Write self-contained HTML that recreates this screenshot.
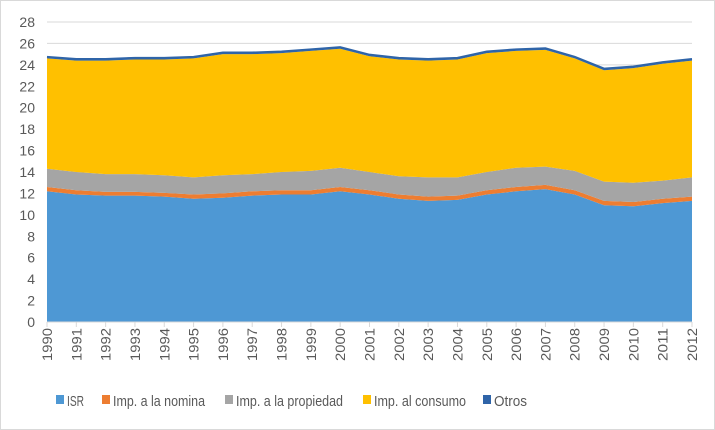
<!DOCTYPE html>
<html><head><meta charset="utf-8"><style>
body{margin:0;background:#fff;font-family:"Liberation Sans",sans-serif}
svg{display:block}
</style></head><body>
<svg id="c" width="715" height="430">
<rect x="0.5" y="0.5" width="714" height="429" fill="#fff" stroke="#d9d9d9"/>
</svg>
<script>
const years=["1990","1991","1992","1993","1994","1995","1996","1997","1998","1999","2000","2001","2002","2003","2004","2005","2006","2007","2008","2009","2010","2011","2012"];
const isr=[12.2,11.9,11.8,11.8,11.7,11.5,11.6,11.8,11.9,11.9,12.2,11.9,11.5,11.3,11.4,11.9,12.2,12.4,11.9,10.9,10.8,11.1,11.3];
const nomina=[0.4,0.4,0.35,0.35,0.35,0.4,0.4,0.4,0.4,0.4,0.4,0.4,0.4,0.4,0.4,0.4,0.4,0.4,0.4,0.4,0.4,0.4,0.4];
const propiedad=[1.7,1.7,1.65,1.65,1.65,1.6,1.7,1.6,1.7,1.8,1.8,1.7,1.7,1.8,1.7,1.7,1.8,1.7,1.8,1.8,1.8,1.7,1.8];
const consumo=[10.3,10.4,10.6,10.7,10.8,11.1,11.3,11.2,11.1,11.2,11.1,10.8,10.9,10.9,11.0,11.1,10.9,10.9,10.5,10.4,10.7,10.9,10.9];
const otros=[0.15,0.15,0.15,0.15,0.15,0.15,0.15,0.15,0.15,0.15,0.15,0.15,0.15,0.15,0.15,0.15,0.15,0.15,0.15,0.15,0.15,0.15,0.15];
const yTicks=[0,2,4,6,8,10,12,14,16,18,20,22,24,26,28];
const series=[["ISR",isr,"#4e98d4"],["Imp. a la nomina",nomina,"#ed7d31"],["Imp. a la propiedad",propiedad,"#a5a5a5"],["Imp. al consumo",consumo,"#ffc000"],["Otros",otros,"#2f64a8"]];
const NS="http://www.w3.org/2000/svg",svg=document.getElementById('c');
const x0=47,x1=692,yb=322,yt=22,ymax=28;
const X=i=>x0+(x1-x0)*i/(years.length-1);
const Y=v=>yb-(yb-yt)*v/ymax;
function mk(t,a){const e=document.createElementNS(NS,t);for(const k in a)e.setAttribute(k,a[k]);svg.appendChild(e);return e;}
yTicks.forEach(v=>{
 const g=mk('line',{x1:x0,x2:x1,y1:Y(v),y2:Y(v),stroke:'#d9d9d9'});
 
 
 const t=mk('text',{x:35,y:Y(v)+5,'text-anchor':'end','font-size':'14',fill:'#595959'});
 t.textContent=v;
 
 
});
let base=years.map(()=>0);
series.forEach(([name,vals,col],si)=>{
 const top=base.map((b,i)=>b+vals[i]);
 let d='M'+top.map((v,i)=>X(i)+','+Y(v)).join(' L');
 for(let i=years.length-1;i>=0;i--)d+=' L'+X(i)+','+Y(base[i]);
 d+='Z';
 const p=mk('path',{d:d,fill:col});
 
 
 if(si===series.length-1){
  const l=mk('polyline',{points:top.map((v,i)=>X(i)+','+Y(v)).join(' '),fill:'none',stroke:col,'stroke-width':2});
  
  
 }
 base=top;
});
const ax=mk('line',{x1:x0,x2:x1,y1:yb,y2:yb,stroke:'#d9d9d9'});


years.forEach((yr,i)=>{
 const tk=mk('line',{x1:X(i),x2:X(i),y1:yb,y2:yb+5,stroke:'#d9d9d9'});
 
 
 const t=mk('text',{x:0,y:0,'text-anchor':'end','font-size':'14',fill:'#595959',textLength:33,lengthAdjust:'spacingAndGlyphs',transform:`translate(${X(i)+5},${yb+6}) rotate(-90)`});
 t.textContent=yr;
 
 
});
const legX=[56,102,225,363,483];
const legW=[17,92,107,92,33];
series.forEach(([name,vals,col],i)=>{
 const r=mk('rect',{x:legX[i],y:395,width:8,height:9,fill:col});
 
 
 const t=mk('text',{x:legX[i]+11,y:406,'font-size':'15',fill:'#595959',textLength:legW[i],lengthAdjust:'spacingAndGlyphs'});
 t.textContent=name;
 
 
});
</script>
</body></html>
